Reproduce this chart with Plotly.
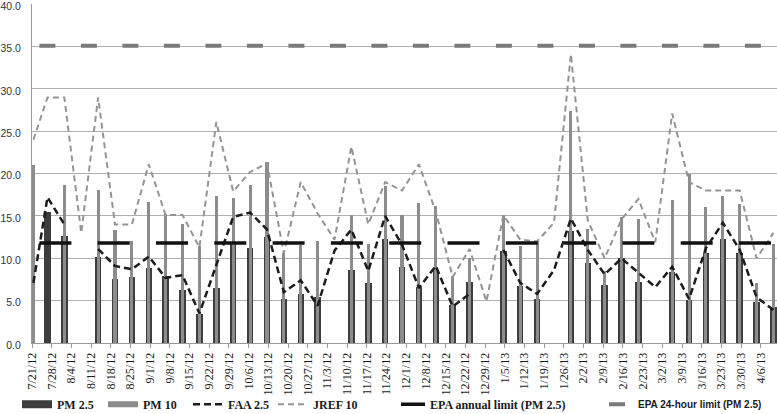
import plotly.graph_objects as go

# Sample dates (1-in-6 day schedule)
dates = ["2012-07-21", "2012-07-26", "2012-08-01", "2012-08-07", "2012-08-13", "2012-08-19",
         "2012-08-25", "2012-08-31", "2012-09-06", "2012-09-12", "2012-09-18", "2012-09-24",
         "2012-09-30", "2012-10-06", "2012-10-12", "2012-10-18", "2012-10-24", "2012-10-30",
         "2012-11-05", "2012-11-11", "2012-11-17", "2012-11-23", "2012-11-29", "2012-12-05",
         "2012-12-11", "2012-12-17", "2012-12-23", "2012-12-29", "2013-01-04", "2013-01-10",
         "2013-01-16", "2013-01-22", "2013-01-28", "2013-02-03", "2013-02-09", "2013-02-15",
         "2013-02-21", "2013-02-27", "2013-03-05", "2013-03-11", "2013-03-17", "2013-03-23",
         "2013-03-29", "2013-04-04", "2013-04-10"]

pm25 = [None, 15.5, 12.6, None, 10.2, 7.5, 7.8, 8.9, 7.9, 6.3, 3.4, 6.5,
        11.7, 11.2, 12.5, 5.2, 5.8, 5.4, None, 8.6, 7.1, 12.3, 9.0, 6.6,
        8.6, 4.5, 7.2, None, 10.9, 6.7, 5.2, None, 13.2, 9.4, 6.8, 10.0,
        7.2, None, 8.4, 5.1, 10.6, 12.3, 10.6, 4.9, 4.3]

pm10 = [21.0, None, 18.6, None, 18.1, 13.3, 12.1, 16.7, 15.2, 14.0, 11.4, 17.4,
        17.1, 18.6, 21.4, 10.6, 11.6, 12.1, None, 15.1, 11.7, 18.5, 15.1, 16.5,
        16.2, 7.9, 10.0, None, 15.1, 11.4, 12.0, None, 27.4, 13.5, 8.5, 14.9,
        14.6, None, 16.9, 20.0, 16.1, 17.3, 16.4, 7.1, 11.7]

faa25 = [7.1, 17.2, 14.0, None, 11.1, 9.1, 8.7, 10.2, 7.7, 8.0, 3.5, 9.2,
         14.9, 15.4, 13.4, 6.0, 7.4, 4.4, 10.9, 13.4, 8.5, 15.0, 11.6, 6.5,
         9.1, 4.3, 5.8, None, 11.0, 7.1, 5.8, 8.6, 14.7, 11.0, 8.1, 10.0,
         8.3, 6.6, 9.0, 5.2, 11.2, 14.2, 11.0, 5.4, 3.9]

jref10 = [24.0, 29.0, 29.0, 13.0, 29.0, 14.0, 14.0, 21.1, 15.1, 15.1, 11.3, 26.1,
          17.9, 20.2, 21.2, 10.6, 19.0, 15.3, 12.2, 23.2, 14.0, 19.0, 18.0, 21.1,
          15.5, 7.8, 11.1, 4.9, 15.1, 12.2, 12.0, 14.2, 34.1, 14.5, 10.0, 14.6,
          17.0, 11.9, 27.1, 19.0, 18.0, 18.0, 18.0, 10.0, 13.0]

epa_annual_limit = 11.8   # EPA annual limit (PM 2.5) as drawn
epa_24h_limit = 35.1      # EPA 24-hour limit (PM 2.5)

y_ticks = [0, 5, 10, 15, 20, 25, 30, 35, 40]
y_tick_labels = ["0.0", "5.0", "10.0", "15.0", "20.0", "25.0", "30.0", "35.0", "40.0"]

DAY = 86400000
L, R, T, B = 32, 0, 3.5, 70.5
W, H = 777, 414
plot_w = W - L - R

def px_to_paper(px):
    return (px - L) / plot_w

DARK = "#3d3d3d"
GREY = "#8c8c8c"

fig = go.Figure()

per = dict(xperiod=DAY, xperiodalignment="middle")

fig.add_trace(go.Bar(x=dates, y=pm25, width=2.3 * DAY, marker=dict(color=DARK, line=dict(width=0)),
                     showlegend=False, name="PM 2.5", **per))
fig.add_trace(go.Bar(x=dates, y=pm10, width=1.1 * DAY, marker=dict(color=GREY, line=dict(width=0)),
                     showlegend=False, name="PM 10", **per))

fig.add_trace(go.Scatter(x=dates, y=faa25, mode="lines", connectgaps=False,
                         line=dict(color="#1c1c1c", width=2.5, dash="7px,4px"),
                         name="<b>FAA 2.5</b>", legend="legend3", **per))
fig.add_trace(go.Scatter(x=dates, y=jref10, mode="lines", connectgaps=False,
                         line=dict(color="#949494", width=2, dash="6px,4px"),
                         name="<b>JREF 10</b>", legend="legend4", **per))
fig.add_trace(go.Scatter(x=dates, y=[epa_annual_limit] * len(dates), mode="lines",
                         line=dict(color="#111111", width=3.5, dash="0px,6px,32px,20.3px"),
                         name="<b>EPA annual limit (PM 2.5)</b>", legend="legend5", **per))
fig.add_trace(go.Scatter(x=dates, y=[epa_24h_limit] * len(dates), mode="lines",
                         line=dict(color="#7a7a7a", width=4, dash="0px,6px,16px,19.5px"),
                         name="<b>EPA 24-hour limit (PM 2.5)</b>", legend="legend6", **per))

# legend-only swatches for the bar series (wide rectangles like the original)
fig.add_trace(go.Scatter(x=[None], y=[None], mode="lines", line=dict(color=DARK, width=8),
                         name="<b>PM 2.5</b>", legend="legend"))
fig.add_trace(go.Scatter(x=[None], y=[None], mode="lines", line=dict(color=GREY, width=6),
                         name="<b>PM 10</b>", legend="legend2"))

serif = dict(family="Liberation Serif", size=12, color="#1a1a1a")
sans = dict(family="Liberation Sans", size=10, color="#1a1a1a")
ly = (343.5 - 405) / 340.0
text_starts = [57, 143, 228, 313, 430, 638]
legends = {}
for i, ts in enumerate(text_starts):
    key = "legend" if i == 0 else f"legend{i+1}"
    legends[key] = dict(x=px_to_paper(ts - 40), y=ly, xanchor="left", yanchor="middle",
                        orientation="h", bgcolor="rgba(0,0,0,0)", borderwidth=0,
                        font=sans if i == 5 else serif, itemwidth=30)

fig.update_layout(
    width=W, height=H,
    margin=dict(l=L, r=R, t=T, b=B, autoexpand=False),
    paper_bgcolor="white", plot_bgcolor="white",
    barmode="overlay", bargap=0,
    **legends,
    xaxis=dict(type="date", range=["2012-07-21", "2013-04-11 18:00"],
               tick0="2012-07-21", dtick=7 * DAY, tickformat="%-m/%-d/%y",
               tickangle=-90, tickfont=serif, ticks="outside", ticklen=4,
               tickcolor="#9a9a9a", showgrid=False, showline=True, linecolor="#9a9a9a",
               linewidth=1, zeroline=False, ticklabeloverflow="allow"),
    yaxis=dict(range=[0, 40.03], tickmode="array", tickvals=y_ticks, ticktext=y_tick_labels,
               showgrid=True, gridcolor="#b0b0b0", gridwidth=1, showline=True,
               linecolor="#9a9a9a", linewidth=1, zeroline=False, ticks="",
               tickfont=dict(family="Liberation Sans", size=10.5, color="#333333"),
               ticklabelstandoff=8, ticklabelshift=2, ticklabeloverflow="allow"),
)

fig.write_html("out.html", config={"displayModeBar": False},
               post_script="document.body.style.margin='0';document.body.style.padding='0';")
